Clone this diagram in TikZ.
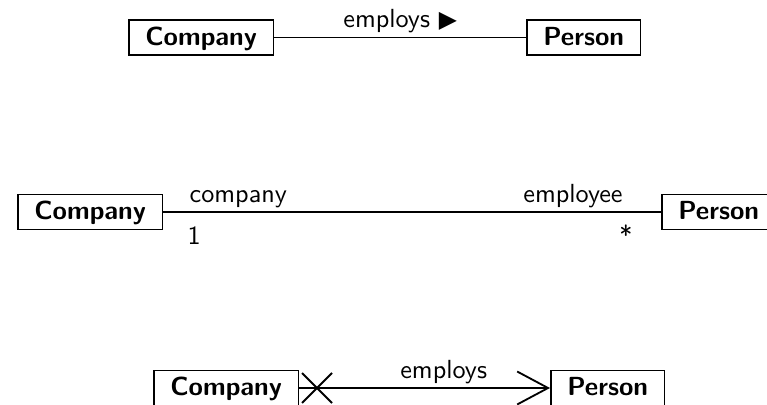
\documentclass[tikz,border=0pt]{standalone}
\usepackage{fontspec}
\newfontfamily\symbolfont{DejaVu Sans}
\usetikzlibrary{arrows.meta}
\tikzset{umlclass/.style = {
  rectangle, draw, line width=0.6pt,
  font=\sffamily\bfseries,
  inner xsep=6.3pt, inner ysep=1.8pt,
  text height=7.84pt, text depth=2pt
  }}
\tikzset{role/.style = {font=\sffamily, inner sep=1.5pt}}
\tikzset{mult/.style = {
  font=\sffamily, inner sep=1.5pt,
  text height=10.7pt, text depth=0pt
  }}
\tikzset{assoc/.style = {line width=0.5pt}}
\tikzset{navarrow/.style = {-{Straight Barb[length=11.8pt, width=12.6pt, line width=0.7pt]}}}
\tikzset{nonnav/.style = {line width=0.7pt}}

\begin{document}
\begin{tikzpicture}[x=0.382pt, y=-0.382pt]
    \useasboundingbox (0,0) rectangle (767,405);

    % Association with a reading direction
    \node (company1) [umlclass, anchor=west] at (128,37.5) {Company};
    \node (person1) [umlclass, anchor=west] at (526,37.5) {Person};
    \draw [assoc] (company1) -- node [role, above] {employs {\symbolfont\small ▶}} (person1);

    % Association with roles and multiplicities
    \node (company2) [umlclass, anchor=west] at (17,212) {Company};
    \node (person2) [umlclass, anchor=west] at (661,212) {Person};
    \draw [assoc] (company2) -- node [role, pos=0.044, anchor=south west] {company}
        node [mult, pos=0.04, anchor=north west] {1}
        node [role, pos=0.932, anchor=south east] {employee}
        node [mult, pos=0.952, anchor=north east] {*} (person2);

    % Navigable on one end only
    \node (company3) [umlclass, anchor=west] at (153,388) {Company};
    \node (person3) [umlclass, anchor=west] at (550,388) {Person};
    \draw [assoc, navarrow] (company3) -- node [role, pos=0.576, above] {employs} (person3);
    \coordinate (cross) at (317,388);
    \draw [nonnav] (cross) +(-15,-15) -- +(15,15) (cross) +(-15,15) -- +(15,-15);

\end{tikzpicture}
\end{document}
